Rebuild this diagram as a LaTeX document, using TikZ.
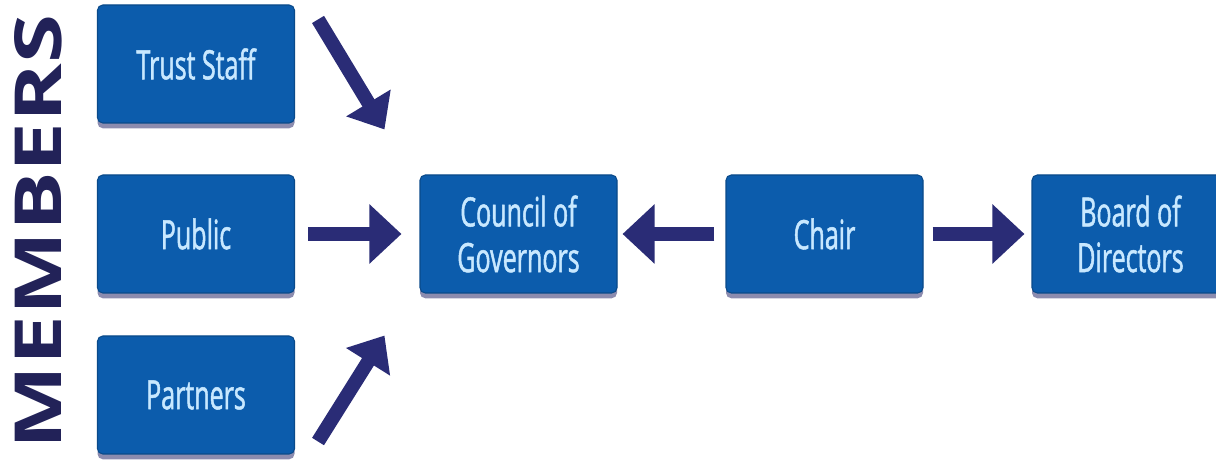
\documentclass[tikz,border=0pt]{standalone}
\usepackage{fontspec}
\usepackage{graphicx}
\setsansfont{Open Sans}
\newfontfamily\boxfont[FakeStretch=0.62,FakeBold=1.2]{Open Sans}
\usetikzlibrary{arrows.meta,shadows}

\definecolor{boxblue}{RGB}{12,92,172}
\definecolor{boxtext}{RGB}{200,232,255}
\definecolor{navy}{RGB}{42,44,118}
\definecolor{inkblue}{RGB}{34,34,88}

\begin{document}
\begin{tikzpicture}[line cap=butt]
  \tikzset{
    member/.style={draw=boxblue!80!black, line width=0.6pt, fill=boxblue, rounded corners=3pt,
      minimum width=3.94cm, minimum height=2.36cm, align=center, text=boxtext,
      font=\boxfont\fontsize{23}{26}\selectfont,
      drop shadow={shadow xshift=0pt, shadow yshift=-3pt, fill=black!70!blue!60, opacity=0.75}},
    flow/.style={navy, line width=0.28cm, -{Triangle[width=1.15cm,length=0.64cm]}},
    slant/.style={flow, -{Triangle[width=1.0cm,length=0.62cm]}}
  }
  \useasboundingbox (0,0) rectangle (24.32,-9.22);

  % Members label
  \node[inkblue, rotate=90] (members) at (0.76,-4.64)
    {\resizebox{8.7cm}{0.94cm}{\sffamily\bfseries MEMBERS}};

  % Member groups
  \node[member] (staff) at (3.92,-1.28) {Trust Staff};
  \node[member] (public) at (3.92,-4.68) {Public};
  \node[member] (partners) at (3.92,-7.90) {Partners};

  % Governance
  \node[member] (council) at (10.37,-4.68) {Council of\\Governors};
  \node[member] (chair) at (16.49,-4.68) {Chair};
  \node[member] (board) at (22.61,-4.68) {Board of\\Directors};

  % Arrow ends
  \coordinate (staffout) at ([shift={(0.46,-0.30)}]staff.north east);
  \coordinate (councilin1) at ([shift={(-0.70,0.90)}]council.north west);
  \coordinate (partnersout) at ([shift={(0.46,0.26)}]partners.south east);
  \coordinate (councilin3) at ([shift={(-0.70,-0.84)}]council.south west);

  % Arrows
  \draw[slant] (staffout) -- (councilin1);
  \draw[flow, shorten <=0.26cm, shorten >=0.36cm] (public) -- (council);
  \draw[slant] (partnersout) -- (councilin3);
  \draw[flow, shorten <=0.22cm, shorten >=0.10cm] (chair) -- (council);
  \draw[flow, shorten <=0.18cm, shorten >=0.14cm] (chair) -- (board);
\end{tikzpicture}
\end{document}
